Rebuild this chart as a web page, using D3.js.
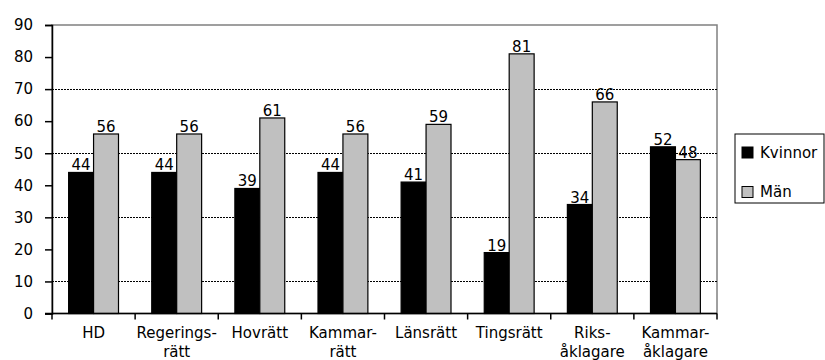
<!DOCTYPE html>
<html><head><meta charset="utf-8">
<script src="https://cdn.jsdelivr.net/npm/d3@7"></script>
<style>body{margin:0;background:#fff}svg{display:block}</style>
</head><body>
<svg id="c" width="825" height="360"></svg>
<script>
const categories = [["HD"],["Regerings-","rätt"],["Hovrätt"],["Kammar-","rätt"],["Länsrätt"],["Tingsrätt"],["Riks-","åklagare"],["Kammar-","åklagare"]];
const kvinnor = [44,44,39,44,41,19,34,52];
const man = [56,56,61,56,59,81,66,48];
const seriesNames = ["Kvinnor","Män"];
const seriesColors = ["#000000","#c0c0c0"];
const yTicks = [0,10,20,30,40,50,60,70,80,90];
const gridValues = [10,30,50,70];

const svg = d3.select("#c");
const font = "DejaVu Sans, sans-serif";
const m = {l:52, t:25, r:717, b:313.5};
const x = d3.scaleBand().domain(d3.range(categories.length)).range([m.l,m.r]).paddingInner(0.4).paddingOuter(0.2);
const xs = d3.scaleBand().domain([0,1]).range([0,x.bandwidth()]);
const y = d3.scaleLinear().domain([0,90]).range([m.b,m.t]);

// plot border
svg.append("rect").attr("x",m.l).attr("y",m.t).attr("width",m.r-m.l).attr("height",m.b-m.t)
  .attr("fill","none").attr("stroke","#808080").attr("stroke-width",1.5);
// gridlines
svg.selectAll("line.g").data(gridValues).join("line")
  .attr("x1",m.l).attr("x2",m.r).attr("y1",d=>Math.round(y(d))+0.5).attr("y2",d=>Math.round(y(d))+0.5)
  .attr("stroke","#000").attr("stroke-width",1).attr("stroke-dasharray","2,1");

const data = categories.map((c,i)=>[kvinnor[i],man[i]]);
const g = svg.selectAll("g.cat").data(data).join("g").attr("transform",(d,i)=>`translate(${x(i)},0)`);
g.selectAll("rect").data(d=>d).join("rect")
  .attr("x",(d,j)=>xs(j)).attr("width",xs.bandwidth())
  .attr("y",d=>y(d)).attr("height",d=>y(0)-y(d))
  .attr("fill",(d,j)=>seriesColors[j]).attr("stroke","#000").attr("stroke-width",1.2);
g.selectAll("text").data(d=>d).join("text")
  .attr("x",(d,j)=>xs(j)+xs.bandwidth()/2).attr("y",d=>y(d)-2)
  .attr("text-anchor","middle").attr("font-family",font).attr("font-size",15)
  .text(d=>d);

// y axis
const ya = svg.append("g").attr("transform",`translate(${m.l},0)`)
  .call(d3.axisLeft(y).tickValues(yTicks).tickSize(7).tickPadding(12));
ya.select(".domain").attr("stroke","#000").attr("stroke-width",1.5);
ya.selectAll(".tick line").attr("stroke","#000").attr("stroke-width",1.5);
ya.selectAll("text").attr("font-family",font).attr("font-size",15).attr("fill","#000");

// x axis
const xa = svg.append("g").attr("transform",`translate(0,${m.b})`);
const bounds = d3.range(categories.length+1).map(i=>m.l+i*(m.r-m.l)/categories.length);
xa.append("line").attr("x1",m.l-7).attr("x2",m.r).attr("stroke","#000").attr("stroke-width",1.5);
xa.selectAll("line.t").data(bounds).join("line").attr("x1",d=>d).attr("x2",d=>d).attr("y1",0).attr("y2",6)
  .attr("stroke","#000").attr("stroke-width",1.5);
const xl = xa.selectAll("text").data(categories).join("text")
  .attr("text-anchor","middle").attr("font-family",font).attr("font-size",15)
  .attr("transform",(d,i)=>`translate(${x(i)+x.bandwidth()/2},24.5)`);
xl.selectAll("tspan").data(d=>d).join("tspan").attr("x",0).attr("dy",(d,k)=>k?18.5:0).text(d=>d);

// legend
const lg = svg.append("g");
lg.append("rect").attr("x",735).attr("y",134).attr("width",89).attr("height",69)
  .attr("fill","#fff").attr("stroke","#000").attr("stroke-width",1);
const li = lg.selectAll("g.i").data(seriesNames).join("g").attr("transform",(d,i)=>`translate(742,${147+i*39.5})`);
li.append("rect").attr("width",11).attr("height",11).attr("fill",(d,i)=>seriesColors[i]).attr("stroke","#000").attr("stroke-width",1);
li.append("text").attr("x",18).attr("y",10.5).attr("font-family",font).attr("font-size",15).text(d=>d);
</script>
</body></html>
